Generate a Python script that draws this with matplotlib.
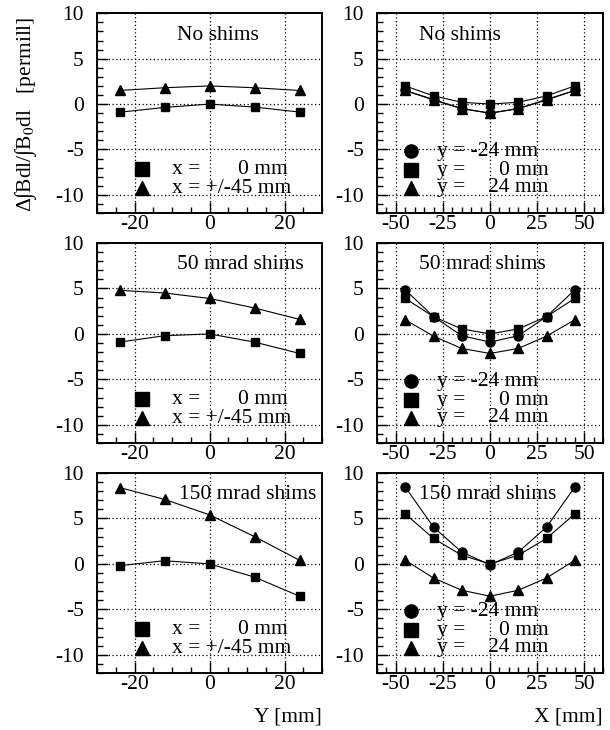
import matplotlib
matplotlib.use("Agg")
import matplotlib.pyplot as plt
from matplotlib.ticker import MultipleLocator, FuncFormatter

plt.rcParams['font.family'] = ['Liberation Serif', 'DejaVu Serif']
plt.rcParams['mathtext.fontset'] = 'stix'
plt.rcParams['axes.unicode_minus'] = False

# ---------------- data ----------------
y_pos = [-24, -12, 0, 12, 24]            # left column abscissa (Y [mm])
x_pos = [-45, -30, -15, 0, 15, 30, 45]   # right column abscissa (X [mm])

panel_titles = ["No shims", "50 mrad shims", "150 mrad shims"]

# left column: x = 0 mm (squares), x = +/-45 mm (triangles)
left_x0 = [
    [-0.9, -0.37, 0.0, -0.33, -0.88],
    [-0.9, -0.2, 0.0, -0.9, -2.15],
    [-0.2, 0.35, 0.0, -1.45, -3.55],
]
left_x45 = [
    [1.5, 1.8, 2.0, 1.8, 1.5],
    [4.8, 4.5, 3.9, 2.85, 1.6],
    [8.4, 7.1, 5.4, 3.0, 0.4],
]

# right column: y = -24 (circles), y = 0 (squares), y = 24 (triangles)
right_ym24 = [
    [1.5, 0.45, -0.5, -1.0, -0.5, 0.45, 1.5],
    [4.85, 1.9, -0.2, -0.9, -0.2, 1.9, 4.85],
    [8.45, 4.05, 1.3, -0.1, 1.3, 4.05, 8.45],
]
right_y0 = [
    [2.0, 0.9, 0.2, 0.0, 0.2, 0.9, 2.0],
    [3.9, 1.9, 0.55, 0.0, 0.55, 1.9, 3.9],
    [5.5, 2.8, 0.95, 0.0, 0.95, 2.8, 5.5],
]
right_y24 = [
    [1.5, 0.5, -0.5, -1.0, -0.5, 0.5, 1.5],
    [1.55, -0.25, -1.6, -2.15, -1.6, -0.25, 1.55],
    [0.4, -1.55, -2.9, -3.55, -2.9, -1.55, 0.4],
]

left_legend_vals = ["0 mm", "+/-45 mm"]
right_legend_vals = ["-24 mm", "0 mm", "24 mm"]

# ---------------- figure ----------------
W, H = 610, 730
fig = plt.figure(figsize=(W / 100, H / 100), dpi=100)

FS = 15.5
row_px = [(13.3, 213), (243, 443), (473, 673)]
left_px = (97, 322)
right_px = (377, 603)


def make_ax(xpx, ypx):
    l = xpx[0] / W
    w = (xpx[1] - xpx[0]) / W
    b = 1 - ypx[1] / H
    h = (ypx[1] - ypx[0]) / H
    return fig.add_axes([l, b, w, h])


fmt = FuncFormatter(lambda v, p: "%d" % round(v))


def style(ax, xlim, xmaj, xmin, grid_x):
    ax.set_xlim(*xlim)
    ax.set_ylim(-12, 10)
    ax.xaxis.set_major_locator(MultipleLocator(xmaj))
    ax.xaxis.set_minor_locator(MultipleLocator(xmin))
    ax.yaxis.set_major_locator(MultipleLocator(5))
    ax.yaxis.set_minor_locator(MultipleLocator(1))
    ax.xaxis.set_major_formatter(fmt)
    ax.yaxis.set_major_formatter(fmt)
    ax.tick_params(which='both', direction='in', top=False, right=False,
                   labelsize=FS, color='black', width=1.0)
    ax.tick_params(which='major', length=8)
    ax.tick_params(which='minor', length=4)
    ax.tick_params(axis='x', pad=1.5)
    ax.tick_params(axis='y', pad=9.5)
    for s in ax.spines.values():
        s.set_linewidth(1.4)
        s.set_color('black')
    for gx in grid_x:
        ax.axvline(gx, color='black', lw=0.9, ls=(0, (1, 2)), zorder=0)
    for gy in [5, 0, -5, -10]:
        ax.axhline(gy, color='black', lw=0.9, ls=(0, (1, 2)), zorder=0)


mk = dict(color='black', lw=0.8, markeredgecolor='black', markerfacecolor='black')

for i in range(3):
    # ---- left column ----
    ax = make_ax(left_px, row_px[i])
    style(ax, (-30, 30), 20, 5, [-20, 0, 20])
    ax.plot(y_pos, left_x0[i], marker='s', ms=6.2, **mk)
    ax.plot(y_pos, left_x45[i], marker='^', ms=6.5, **mk)
    tx = [2.2, 8.2, 10.3][i]
    ax.text(tx, 7.6, panel_titles[i], ha='center', va='center', fontsize=FS)
    ax.plot([-18], [-7.2], marker='s', ms=9.5, ls='none', **mk)
    ax.plot([-18], [-9.3], marker='^', ms=10, ls='none', **mk)
    ax.text(-10, -7.2, "x =", ha='left', va='center', fontsize=FS)
    ax.text(-10, -9.3, "x = " + left_legend_vals[1], ha='left', va='center', fontsize=FS)
    ax.text(21, -7.2, left_legend_vals[0], ha='right', va='center', fontsize=FS)

    # ---- right column ----
    ax = make_ax(right_px, row_px[i])
    style(ax, (-60, 60), 25, 5, [-50, -25, 0, 25, 50])
    ax.plot(x_pos, right_ym24[i], marker='o', ms=6.5, **mk)
    ax.plot(x_pos, right_y0[i], marker='s', ms=6.2, **mk)
    ax.plot(x_pos, right_y24[i], marker='^', ms=6.5, **mk)
    tx = [-16, -4, -1][i]
    ax.text(tx, 7.6, panel_titles[i], ha='center', va='center', fontsize=FS)
    for k, (yy, m, lab) in enumerate(zip([-5.2, -7.3, -9.2], ['o', 's', '^'],
                                         right_legend_vals)):
        ax.plot([-42], [yy], marker=m, ms=9.5 if m != '^' else 10, ls='none', **mk)
        if k == 0:
            ax.text(-28, yy, "y = " + lab, ha='left', va='center', fontsize=FS)
        else:
            ax.text(-28, yy, "y =", ha='left', va='center', fontsize=FS)
            ax.text(31, yy, lab, ha='right', va='center', fontsize=FS)

# axis titles
fig.text(26 / W, 1 - 114 / H, "Δ∫Bdl/∫B$_0$dl   [permill]",
         rotation=90, ha='center', va='center', fontsize=FS)
fig.text(322 / W, 1 - 717 / H, "Y [mm]", ha='right', va='center', fontsize=FS)
fig.text(603 / W, 1 - 717 / H, "X [mm]", ha='right', va='center', fontsize=FS)

fig.savefig("out.png", dpi=100)
